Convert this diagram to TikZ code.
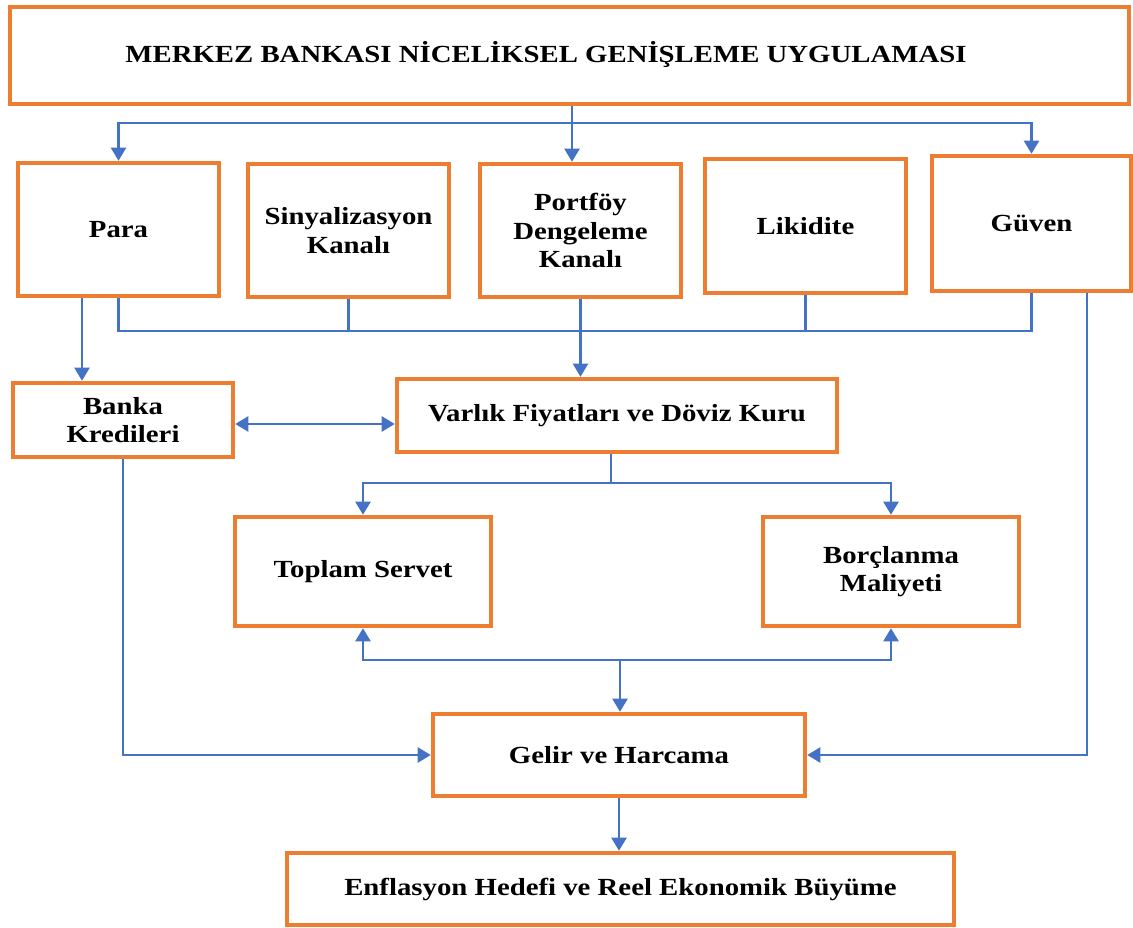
\documentclass[tikz,border=0pt]{standalone}
\usepackage{fontspec}
\setmainfont{Liberation Serif}[FakeStretch=1.17]
\usetikzlibrary{arrows.meta}
\definecolor{boxorange}{HTML}{ED7D31}
\definecolor{linkblue}{HTML}{4472C4}

\begin{document}
\begin{tikzpicture}[x=0.02cm,y=-0.02cm,
    boxtext/.style={font=\bfseries\fontsize{14}{16.2}\selectfont,align=center},
    box/.style={boxtext,draw=boxorange,line width=2.5pt,fill=white,inner sep=0pt},
    link/.style={draw=linkblue,line width=1.6pt},
    arrow/.style={link,-{Triangle[length=7.5pt,width=8.5pt]}},
    dblarrow/.style={link,{Triangle[length=7.5pt,width=8.5pt]}-{Triangle[length=7.5pt,width=8.5pt]}}]
    \useasboundingbox (0,0) rectangle (1133,928);

    \node[box,minimum width=22.38cm,minimum height=1.94cm] (qe) at (569.5,55.5) {};
    \node[boxtext] (qetext) at (546,55) {MERKEZ BANKASI NİCELİKSEL GENİŞLEME UYGULAMASI};

    \node[box,minimum width=4.02cm,minimum height=2.66cm] (para) at (118.5,229.5) {Para};
    \node[box,minimum width=4.02cm,minimum height=2.66cm] (sinyal) at (348.5,230.5) {Sinyalizasyon\\Kanalı};
    \node[box,minimum width=4.02cm,minimum height=2.66cm] (portfoy) at (580.5,230.5) {Portföy\\Dengeleme\\Kanalı};
    \node[box,minimum width=4.02cm,minimum height=2.68cm] (likidite) at (805.5,226) {Likidite};
    \node[box,minimum width=3.98cm,minimum height=2.7cm] (guven) at (1031.5,223.5) {Güven};

    \node[box,minimum width=4.4cm,minimum height=1.48cm] (banka) at (123,420) {Banka\\Kredileri};
    \node[box,minimum width=8.8cm,minimum height=1.46cm] (varlik) at (617,415.5) {Varlık Fiyatları ve Döviz Kuru};

    \node[box,minimum width=5.12cm,minimum height=2.18cm] (toplam) at (363,571.5) {Toplam Servet};
    \node[box,minimum width=5.12cm,minimum height=2.18cm] (borc) at (891,571.5) {Borçlanma\\Maliyeti};

    \node[box,minimum width=7.44cm,minimum height=1.64cm] (gelir) at (619,755) {Gelir ve Harcama};
    \node[box,minimum width=13.34cm,minimum height=1.44cm] (enf) at (620.5,889) {Enflasyon Hedefi ve Reel Ekonomik Büyüme};

    \coordinate (topbus) at (572,123);
    \coordinate (midbus) at (580,331);
    \coordinate (paraleft) at (82,0);
    \coordinate (guvenright) at (1087,0);
    \coordinate (kredibus) at (0,424);
    \coordinate (varlikbus) at (611,483);
    \coordinate (gelirbus) at (620,660);

    \draw[arrow] (qe.south -| topbus) -- (portfoy.north -| topbus);
    \draw[arrow] (topbus) -| (para.north);
    \draw[arrow] (topbus) -| (guven.north);

    \draw[link] (para.south) |- (midbus) -| (guven.south);
    \draw[link] (sinyal.south) -- (sinyal.south |- midbus);
    \draw[link] (likidite.south) -- (likidite.south |- midbus);
    \draw[arrow] (portfoy.south) -- (varlik.north -| portfoy.south);

    \draw[arrow] (para.south -| paraleft) -- (banka.north -| paraleft);
    \draw[dblarrow] (banka.east |- kredibus) -- (varlik.west |- kredibus);

    \draw[link] (varlik.south -| varlikbus) -- (varlikbus);
    \draw[arrow] (varlikbus) -| (toplam.north);
    \draw[arrow] (varlikbus) -| (borc.north);

    \draw[arrow] (gelirbus) -| (toplam.south);
    \draw[arrow] (gelirbus) -| (borc.south);
    \draw[arrow] (gelirbus) -- (gelir.north -| gelirbus);

    \draw[arrow] (banka.south) |- (gelir.west);
    \draw[arrow] (guven.south -| guvenright) |- (gelir.east);
    \draw[arrow] (gelir.south) -- (enf.north -| gelir.south);
\end{tikzpicture}
\end{document}
